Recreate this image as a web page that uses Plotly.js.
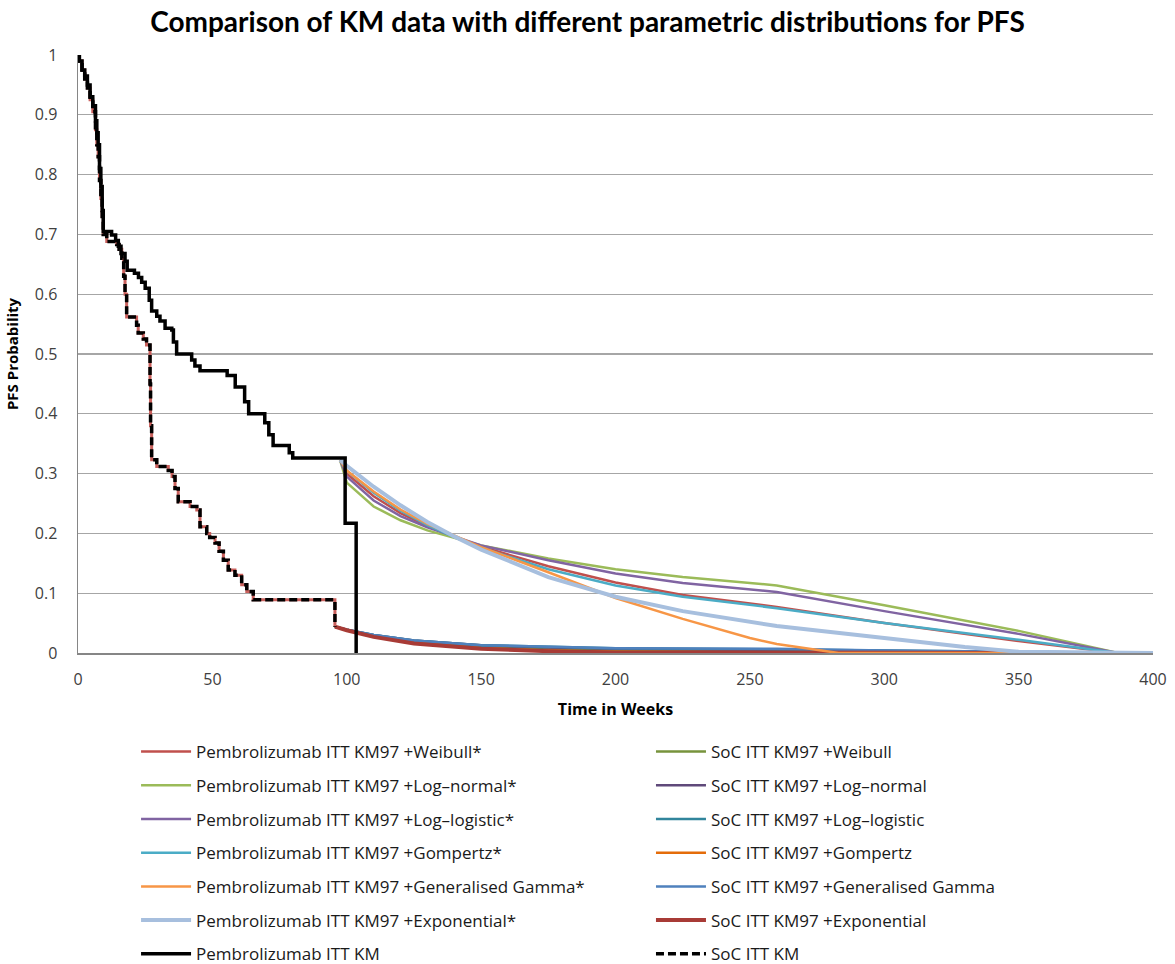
<!DOCTYPE html>
<html>
<head>
<meta charset="utf-8">
<script src="https://cdn.plot.ly/plotly-3.0.1.min.js"></script>
<style>body{margin:0;background:#fff}#chart{width:1175px;height:964px}</style>
</head>
<body>
<div id="chart"></div>
<script>
// Kaplan-Meier data (weeks, PFS probability)
const pembroKmT = [0,0.5,1.5,2.5,3.5,4.5,5.5,6.5,7,7.5,8,8.5,9,9.4,12.5,14,15,16,17.5,18.3,21,22.5,23.7,25,26.5,27.4,29.3,30.5,32.4,34.9,35.5,36.7,42.3,43.5,45.4,55.5,58.5,62,63.5,69.5,71,72.6,78.6,79.9,99.4,103.5];
const pembroKmP = [1,0.99,0.975,0.965,0.95,0.93,0.915,0.89,0.87,0.85,0.81,0.78,0.74,0.705,0.699,0.69,0.68,0.668,0.655,0.64,0.635,0.628,0.62,0.61,0.59,0.572,0.563,0.555,0.543,0.54,0.52,0.5,0.49,0.48,0.472,0.464,0.445,0.42,0.4,0.385,0.365,0.347,0.335,0.326,0.217,0];
const socKmT = [0,0.5,1.5,2.5,3.5,4.5,5.5,6.5,7,7.5,8,8.5,9,9.4,10.7,14.4,15.3,16.3,17,17.5,18.1,21.8,22.4,24.3,25.5,26.8,27,27.4,29.3,33.6,35,36.1,37.3,41.7,44.2,45.4,47.9,49,51,52.5,54.1,55.9,58.4,60.9,62.8,65.2,95.6];
const socKmP = [1,0.99,0.975,0.96,0.945,0.925,0.905,0.875,0.85,0.83,0.79,0.76,0.73,0.7,0.688,0.683,0.675,0.66,0.63,0.6,0.562,0.548,0.535,0.525,0.515,0.45,0.38,0.323,0.312,0.305,0.295,0.275,0.253,0.245,0.239,0.211,0.2,0.193,0.184,0.17,0.155,0.139,0.13,0.114,0.103,0.089,0.044];

// Pembrolizumab extrapolations (KM to week 97 + parametric)
const pembroTailT = [97.5,100,110,120,130,140,150,175,200,225,260,300,350,387,400];
const pembroWeibull   = [0.323,0.300,0.262,0.234,0.212,0.194,0.178,0.145,0.118,0.097,0.077,0.050,0.020,0,0];
const pembroLogNormal = [0.323,0.285,0.245,0.222,0.205,0.192,0.180,0.158,0.140,0.127,0.113,0.080,0.037,0,0];
const pembroLogLogistic=[0.323,0.295,0.255,0.229,0.210,0.195,0.180,0.155,0.133,0.117,0.102,0.070,0.032,0,0];
const pembroGompertz  = [0.323,0.305,0.268,0.238,0.214,0.194,0.176,0.140,0.113,0.094,0.075,0.050,0.022,0,0];
const pembroGGT = [97.5,100,110,120,130,140,150,175,200,225,250,260,283,400];
const pembroGenGamma  = [0.323,0.305,0.270,0.240,0.216,0.196,0.177,0.135,0.092,0.057,0.025,0.015,0,0];
const pembroExpT = [97.5,100,110,120,130,140,150,175,200,225,260,300,330,350,400];
const pembroExponential=[0.323,0.313,0.278,0.247,0.219,0.195,0.173,0.127,0.094,0.070,0.045,0.025,0.010,0.002,0];

// SoC extrapolations
const socTailT = [95.6,100,110,125,150,175,200,260,300,350,387,400];
const socWeibull    = [0.044,0.039,0.029,0.019,0.010,0.006,0.004,0.002,0.001,0.0005,0,0];
const socLogNormal  = [0.044,0.039,0.030,0.021,0.013,0.009,0.007,0.005,0.003,0.001,0,0];
const socLogLogistic= [0.044,0.039,0.030,0.021,0.013,0.010,0.008,0.006,0.004,0.002,0,0];
const socGompertz   = [0.044,0.038,0.027,0.017,0.008,0.004,0.002,0.001,0,0,0,0];
const socGenGamma   = [0.044,0.039,0.030,0.021,0.013,0.010,0.008,0.007,0.004,0.002,0,0];
const socExponential= [0.044,0.038,0.027,0.016,0.007,0.003,0.001,0,0,0,0,0];

const F = 'Open Sans, Arial, sans-serif';

function tr(name, x, y, color, width, legend, rank, extra) {
  return Object.assign({
    type: 'scatter', mode: 'lines', name: name, x: x, y: y,
    line: {color: color, width: width},
    legend: legend, legendrank: rank, legendgroup: name,
    hoverinfo: 'skip'
  }, extra || {});
}

const data = [
  tr('SoC ITT KM97 +Weibull', socTailT, socWeibull, '#77933C', 2.5, 'legend2', 1),
  tr('SoC ITT KM97 +Log–normal', socTailT, socLogNormal, '#5F497A', 2.5, 'legend2', 2),
  tr('SoC ITT KM97 +Log–logistic', socTailT, socLogLogistic, '#31859C', 2.5, 'legend2', 3),
  tr('SoC ITT KM97 +Gompertz', socTailT, socGompertz, '#E46C0A', 2.5, 'legend2', 4),
  tr('SoC ITT KM97 +Generalised Gamma', socTailT, socGenGamma, '#4F81BD', 2.5, 'legend2', 5),
  tr('SoC ITT KM97 +Exponential', socTailT, socExponential, '#A83B36', 4, 'legend2', 6),
  // KM97 part of the SoC fitted curves, lying beneath the dashed KM line
  tr('SoC KM97 part', socKmT, socKmP, '#C0504D', 3, 'legend2', 99, {showlegend: false, line: {color: '#C9605C', width: 3, shape: 'hv'}}),
  tr('Pembrolizumab ITT KM97 +Weibull*', pembroTailT, pembroWeibull, '#C0504D', 2.5, 'legend', 1),
  tr('Pembrolizumab ITT KM97 +Log–normal*', pembroTailT, pembroLogNormal, '#9BBB59', 2.5, 'legend', 2),
  tr('Pembrolizumab ITT KM97 +Log–logistic*', pembroTailT, pembroLogLogistic, '#8064A2', 2.5, 'legend', 3),
  tr('Pembrolizumab ITT KM97 +Gompertz*', pembroTailT, pembroGompertz, '#4BACC6', 2.5, 'legend', 4),
  tr('Pembrolizumab ITT KM97 +Generalised Gamma*', pembroGGT, pembroGenGamma, '#F79646', 2.5, 'legend', 5),
  tr('Pembrolizumab ITT KM97 +Exponential*', pembroExpT, pembroExponential, '#A7BFDE', 4, 'legend', 6),
  tr('Pembrolizumab ITT KM', pembroKmT, pembroKmP, '#000000', 3.5, 'legend', 7, {line:{color:'#000',width:3.5,shape:'hv'}}),
  tr('SoC ITT KM', socKmT, socKmP, '#000000', 3.5, 'legend2', 7, {line:{color:'#000',width:3.5,shape:'hv',dash:'8px,4px'}})
];

const legendCommon = {
  orientation: 'v', yanchor: 'top', y: -0.1355, xanchor: 'left',
  traceorder: 'grouped', tracegroupgap: 8.6, itemwidth: 50,
  font: {family: F, size: 17, color: '#1a1a1a'}, bgcolor: 'rgba(0,0,0,0)'
};

const layout = {
  width: 1175, height: 964,
  margin: {l: 78, r: 22, t: 55, b: 311, autoexpand: false},
  paper_bgcolor: '#fff', plot_bgcolor: '#fff',
  title: {text: '<b>Comparison of KM data with different parametric distributions for PFS</b>',
    font: {family: 'Lato, sans-serif', size: 28, color: '#000'}, x: 0.5, xanchor: 'center', y: 0.977, yanchor: 'middle'},
  xaxis: {range: [0, 400], dtick: 50, tick0: 0, showgrid: false, zeroline: false,
    showline: true, linecolor: '#868686', linewidth: 1.5, ticks: '',
    ticklabelstandoff: 11,
    tickfont: {family: F, size: 16, color: '#404040'},
    title: {text: '<b>Time in Weeks</b>', font: {family: F, size: 16, color: '#000'}, standoff: 15}},
  yaxis: {range: [0, 1], dtick: 0.1, tick0: 0, showgrid: true, gridcolor: '#A6A6A6', gridwidth: 1.3,
    zeroline: false, showline: true, linecolor: '#868686', linewidth: 1.5, ticks: '',
    ticklabelstandoff: 16,
    tickfont: {family: F, size: 16, color: '#404040'},
    title: {text: '<b>PFS Probability</b>', font: {family: F, size: 15, color: '#000'}, standoff: 12}},
  legend: Object.assign({}, legendCommon, {x: 0.054}),
  legend2: Object.assign({}, legendCommon, {x: 0.533}),
  showlegend: true
};

Plotly.newPlot('chart', data, layout, {displayModeBar: false, staticPlot: true});
</script>
</body>
</html>
